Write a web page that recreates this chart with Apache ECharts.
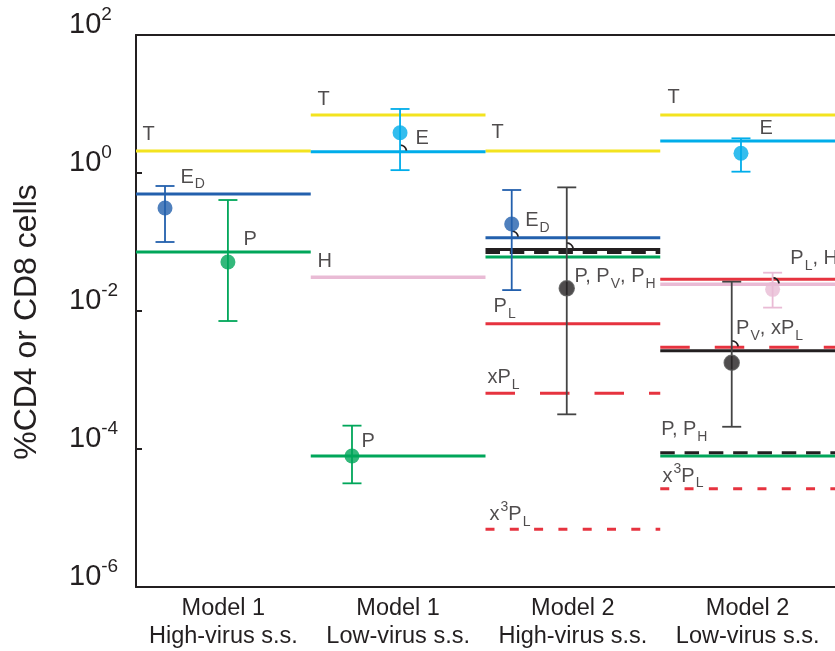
<!DOCTYPE html>
<html>
<head>
<meta charset="utf-8">
<script src="https://cdn.jsdelivr.net/npm/echarts@6/dist/echarts.min.js"></script>
<style>
html,body{margin:0;padding:0;background:#fff;overflow:hidden;}
#chart{width:835px;height:651px;}
</style>
</head>
<body>
<div id="chart"></div>
<script>
// ---------- data ----------
const categories = ['Model 1\nHigh-virus s.s.', 'Model 1\nLow-virus s.s.', 'Model 2\nHigh-virus s.s.', 'Model 2\nLow-virus s.s.'];
const yTickExponents = [-6, -4, -2, 0, 2];

// steady-state levels per column (null = not shown)
const T    = [2.08, 6.93, 2.08, 6.93];
const E    = [null, 2.04, null, 2.91];
const ED   = [0.497, null, 0.1156, null];
const P    = [0.0716, 7.92e-5, 0.0607, 7.92e-5];
const H    = [null, 0.0308, null, 0.0244];
const PV   = [null, null, 0.0778, 0.00266];
const PH   = [null, null, 0.0705, 8.83e-5];
const PL   = [null, null, 0.00655, 0.0288];
const xPL  = [null, null, 6.41e-4, 0.00298];
const x3PL = [null, null, 6.85e-6, 2.66e-5];

// measured data points with error bars
const ptX    = [0.166, 0.526, 1.511, 1.236, 2.150, 2.465, 3.462, 3.643, 3.409];
const ptY    = [0.311, 0.0513, 3.84, 7.92e-5, 0.1825, 0.0213, 1.93, 0.0206, 0.00178];
const ptLo   = [0.1, 0.00716, 1.10, 3.18e-5, 0.0201, 3.18e-4, 1.045, 0.0112, 2.1e-4];
const ptHi   = [0.648, 0.406, 8.47, 2.18e-4, 0.567, 0.619, 3.18, 0.0359, 0.0266];
const ptKind = ['ED', 'P', 'E', 'P', 'ED', 'K', 'E', 'H', 'K'];

// small callout arcs where an error bar meets a level line: [x, level]
const callouts = [[1.511, 2.04], [2.150, 0.1156], [2.465, 0.0778], [3.643, 0.0244], [3.409, 0.00298]];

// annotation labels: [text, x, y] in data coordinates
const annotations = [
  ['{n|T}', 0.040, 3.61],
  ['{n|E}{s|D}', 0.2575, 0.861],
  ['{n|P}', 0.618, 0.1087],
  ['{n|T}', 1.0415, 11.43],
  ['{n|E}', 1.602, 3.11],
  ['{n|H}', 1.0415, 0.0513],
  ['{n|P}', 1.293, 1.262e-4],
  ['{n|T}', 2.037, 3.80],
  ['{n|E}{s|D}', 2.230, 0.2015],
  ['{n|P, P}{s|V}{n|, P}{s|H}', 2.512, 0.0311],
  ['{n|P}{s|L}', 2.049, 0.01143],
  ['{n|xP}{s|L}', 2.014, 1.069e-3],
  ['{n|x}{u|3}{n|P}{s|L}', 2.026, 1.105e-5],
  ['{n|T}', 3.045, 12.22],
  ['{n|E}', 3.571, 4.34],
  ['{n|P}{s|L}{n|, H}', 3.747, 0.0567],
  ['{n|P}{s|V}{n|, xP}{s|L}', 3.437, 5.48e-3],
  ['{n|P, P}{s|H}', 3.008, 1.885e-4],
  ['{n|x}{u|3}{n|P}{s|L}', 3.016, 3.99e-5]
];

// ---------- styles ----------
const C = {
  T: '#f3e31f', E: '#00adea', ED: '#2360ad', P: '#00a65a', H: '#e9bbd5',
  R: '#e6333f', K: '#231f20', Kbar: '#444444'
};
const FONT = '"Liberation Sans", Arial, Helvetica, sans-serif';
const TXT = '#231f20';

const lineDefs = [
  { vals: T, color: C.T, type: 'solid', w: 3 },
  { vals: E, color: C.E, type: 'solid', w: 3 },
  { vals: ED, color: C.ED, type: 'solid', w: 3 },
  { vals: H, color: C.H, type: 'solid', w: 3.5 },
  { vals: PL, color: C.R, type: 'solid', w: 3 },
  { vals: P, color: C.P, type: 'solid', w: 3 },
  { vals: PV, color: C.K, type: 'solid', w: 3 },
  { vals: PH, color: C.K, type: [14.5, 9.8], w: 3 },
  { vals: xPL, color: C.R, type: [29.5, 25], w: 3 },
  { vals: x3PL, color: C.R, type: [9, 15.3], w: 3 }
];

const series = [];
lineDefs.forEach(d => {
  d.vals.forEach((v, i) => {
    if (v == null) return;
    series.push({
      type: 'line', silent: true, symbol: 'none', animation: false,
      data: [[i, v], [i + 1, v]],
      lineStyle: { color: d.color, width: d.w, type: d.type, cap: 'butt' },
      z: 2
    });
  });
});

const kindColor = k => k === 'K' ? C.K : C[k];
const barColor = k => k === 'K' ? C.Kbar : C[k];

// callout arcs
series.push({
  type: 'custom', silent: true, animation: false, z: 3,
  data: callouts,
  encode: { x: 0, y: 1 },
  renderItem: function (params, api) {
    const c = api.coord([api.value(0), api.value(1)]);
    return {
      type: 'arc',
      shape: { cx: c[0], cy: c[1], r: 6.5, startAngle: -Math.PI / 2, endAngle: -0.15, clockwise: true },
      style: { stroke: C.K, lineWidth: 1.8, fill: null }
    };
  }
});

// error bars
series.push({
  type: 'custom', silent: true, animation: false, z: 3,
  data: ptX.map((x, i) => [x, ptLo[i], ptHi[i], i]),
  encode: { x: 0, y: [1, 2] },
  renderItem: function (params, api) {
    const x = api.value(0), lo = api.value(1), hi = api.value(2), idx = api.value(3);
    const a = api.coord([x, lo]), b = api.coord([x, hi]);
    const col = barColor(ptKind[idx]);
    const hw = 9.5;
    const st = { stroke: col, lineWidth: 1.8 };
    return {
      type: 'group',
      children: [
        { type: 'line', shape: { x1: a[0], y1: a[1], x2: b[0], y2: b[1] }, style: st },
        { type: 'line', shape: { x1: a[0] - hw, y1: a[1], x2: a[0] + hw, y2: a[1] }, style: st },
        { type: 'line', shape: { x1: b[0] - hw, y1: b[1], x2: b[0] + hw, y2: b[1] }, style: st }
      ]
    };
  }
});

// points
series.push({
  type: 'scatter', silent: true, animation: false, z: 4,
  symbolSize: 15,
  data: ptX.map((x, i) => ({
    value: [x, ptY[i]],
    itemStyle: {
      color: kindColor(ptKind[i]),
      borderColor: ptKind[i] === 'K' ? '#555555' : kindColor(ptKind[i]),
      borderWidth: ptKind[i] === 'K' ? 1.5 : 0
    }
  }))
});

// annotations
series.push({
  type: 'scatter', silent: true, animation: false, z: 5,
  symbolSize: 1,
  itemStyle: { color: 'rgba(0,0,0,0)' },
  data: annotations.map(a => ({ value: [a[1], a[2]], name: a[0] })),
  label: {
    show: true, position: [0, 0], align: 'left', verticalAlign: 'middle',
    formatter: p => p.name,
    rich: {
      n: { fontSize: 20, color: TXT, fontFamily: FONT },
      s: { fontSize: 14, color: TXT, fontFamily: FONT, padding: [15, 0, 0, 1] },
      u: { fontSize: 14, color: TXT, fontFamily: FONT, padding: [0, 0, 14, 1] }
    }
  }
});

const chart = echarts.init(document.getElementById('chart'), null, { renderer: 'canvas' });
chart.setOption({
  backgroundColor: '#ffffff',
  animation: false,
  grid: { left: 136, width: 699, top: 35, bottom: 64, containLabel: false, outerBoundsMode: 'none' },
  xAxis: [
    {
      type: 'value', min: 0, max: 4, interval: 0.5, position: 'bottom',
      axisLine: { show: true, lineStyle: { color: '#231f20', width: 2 } },
      axisTick: { show: false },
      splitLine: { show: false },
      axisLabel: {
        margin: 8, color: TXT, fontFamily: FONT, fontSize: 23.5, lineHeight: 28,
        formatter: v => (Math.abs(v % 1 - 0.5) < 1e-6) ? categories[Math.floor(v)] : ''
      }
    },
    {
      type: 'value', min: 0, max: 4, position: 'top',
      axisLine: { show: true, lineStyle: { color: '#231f20', width: 2 } },
      axisTick: { show: false }, axisLabel: { show: false }, splitLine: { show: false }
    }
  ],
  yAxis: {
    type: 'log', logBase: 10, min: Math.pow(10, yTickExponents[0]), max: Math.pow(10, yTickExponents[yTickExponents.length - 1]),
    interval: 2,
    name: '%CD4 or CD8 cells', nameLocation: 'middle', nameGap: 93,
    nameTextStyle: { fontSize: 32, color: TXT, fontFamily: FONT, padding: [0, 22, 0, 0] },
    axisLine: { show: true, lineStyle: { color: '#231f20', width: 2 } },
    axisTick: { show: true, inside: true, length: 6, lineStyle: { color: '#231f20', width: 2 } },
    splitLine: { show: false },
    minorTick: { show: false },
    axisLabel: {
      margin: 67, align: 'left',
      formatter: v => '{b|10}{e|' + Math.round(Math.log10(v)) + '}',
      rich: {
        b: { fontSize: 29, color: TXT, fontFamily: FONT, padding: [0, 0, 20, 0] },
        e: { fontSize: 19, color: TXT, fontFamily: FONT, padding: [0, 0, 40, 0] }
      }
    }
  },
  series: series
});
</script>
</body>
</html>
